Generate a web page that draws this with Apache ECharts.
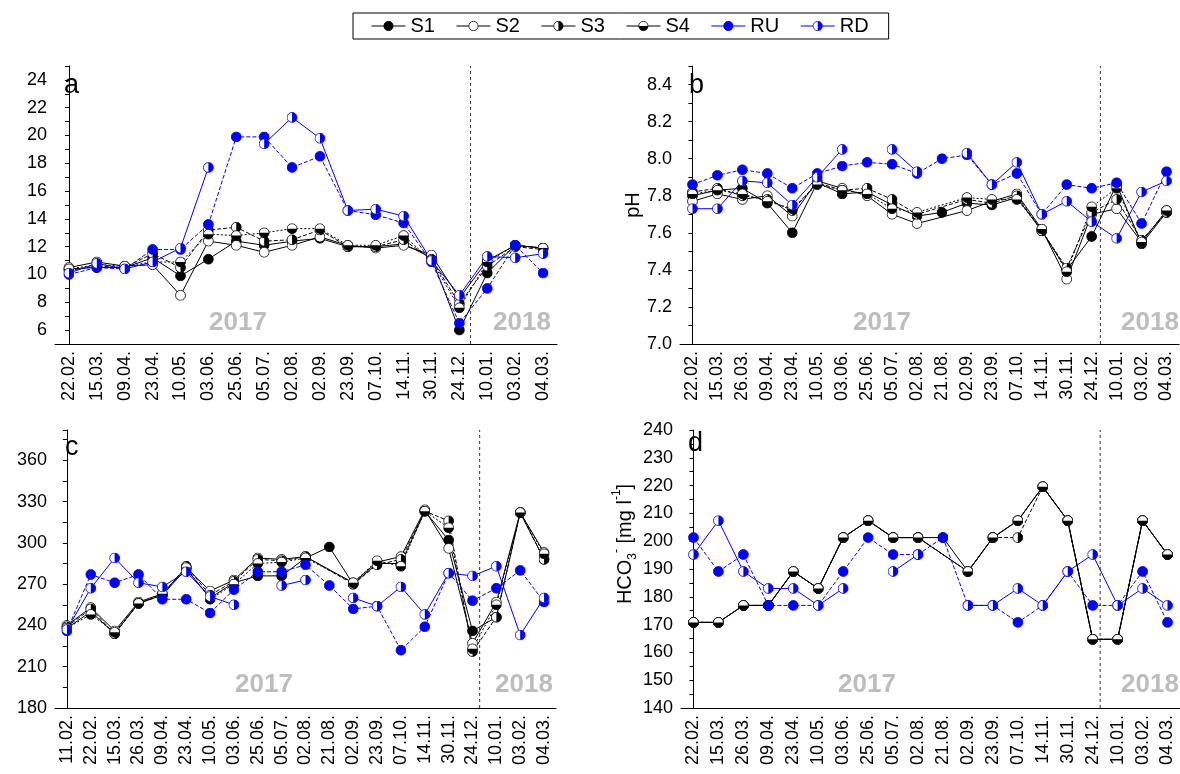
<!DOCTYPE html>
<html>
<head>
<meta charset="utf-8">
<script src="https://cdn.jsdelivr.net/npm/echarts@6/dist/echarts.min.js"></script>
<style>
  html, body { margin: 0; padding: 0; background: #fff; }
  #chart { width: 1180px; height: 774px; }
</style>
</head>
<body>
<div id="chart"></div>
<script>
// ---- sampling dates ----
const datesA = ['22.02.','15.03.','09.04.','23.04.','10.05.','03.06.','25.06.','05.07.','02.08.','02.09.','23.09.','07.10.','14.11.','30.11.','24.12.','10.01.','03.02.','04.03.'];
const datesB = ['22.02.','15.03.','26.03.','09.04.','23.04.','10.05.','03.06.','25.06.','05.07.','02.08.','21.08.','02.09.','23.09.','07.10.','14.11.','30.11.','24.12.','10.01.','03.02.','04.03.'];
const datesC = ['11.02.','22.02.','15.03.','26.03.','09.04.','23.04.','10.05.','03.06.','25.06.','05.07.','02.08.','21.08.','02.09.','23.09.','07.10.','14.11.','30.11.','24.12.','10.01.','03.02.','04.03.'];
const datesD = datesB;

// ---- panel a: temperature ----
const tempS1 = [10.4,10.5,10.5,11.2,9.9,11.1,12.4,12.1,12.4,12.6,12.0,12.0,12.2,11.2,6.0,10.1,12.1,11.9];
const tempS2 = [10.5,10.9,10.6,10.7,8.5,12.4,12.1,11.6,12.1,12.7,12.1,11.9,12.1,11.4,8.3,11.0,12.1,11.9];
const tempS3 = [10.3,10.6,10.5,11.5,10.5,13.2,13.4,12.4,12.5,13.2,12.0,12.0,12.5,11.1,7.9,10.6,12.0,11.8];
const tempS4 = [10.4,10.7,10.6,10.9,10.9,12.9,12.8,13.0,13.3,13.3,12.1,12.1,12.8,11.0,7.6,10.9,12.1,11.9];
const tempRU = [10.0,10.5,10.4,11.8,11.8,13.6,19.9,19.9,17.7,18.5,14.6,14.3,13.7,10.9,6.5,9.0,12.1,10.1];
const tempRD = [10.1,10.8,10.4,10.9,11.9,17.7,null,19.4,21.3,19.8,14.6,14.7,14.2,11.0,8.5,11.3,11.2,11.5];

// ---- panel b: pH ----
const phS1 = [7.80,7.83,7.84,7.76,7.60,7.87,7.81,7.82,7.75,7.69,7.71,7.76,7.75,7.79,7.61,7.40,7.58,7.86,7.54,7.71];
const phS2 = [7.77,7.81,7.78,7.80,7.69,7.88,7.84,7.80,7.70,7.65,null,7.72,7.77,7.81,7.62,7.35,7.70,7.73,7.55,7.72];
const phS3 = [7.82,7.84,7.80,7.78,7.72,7.87,7.83,7.84,7.78,7.70,null,7.78,7.76,7.80,7.61,7.41,7.71,7.78,7.56,7.71];
const phS4 = [7.81,7.83,7.81,7.77,7.73,7.86,7.83,7.81,7.73,7.71,null,7.79,7.78,7.78,7.62,7.39,7.74,7.84,7.55,7.72];
const phRU = [7.86,7.91,7.94,7.92,7.84,7.92,7.96,7.98,7.97,7.92,8.00,8.02,7.86,7.92,7.70,7.86,7.84,7.87,7.65,7.93];
const phRD = [7.73,7.73,7.88,7.87,7.75,7.90,8.05,null,8.05,7.93,null,8.03,7.86,7.98,7.70,7.77,7.66,7.57,7.82,7.88];

// ---- panel c: conductivity ----
const condS1 = [238,250,234,256,262,281,260,271,276,276,289,297,270,285,285,323,302,236,246,322,288];
const condS2 = [240,253,236,257,263,282,265,273,289,288,290,null,271,286,290,324,296,227,257,322,293];
const condS3 = [239,252,234,256,262,283,262,272,288,287,290,null,270,284,288,323,316,221,246,322,288];
const condS4 = [238,248,235,256,263,282,259,270,285,286,289,null,271,287,283,323,311,223,255,322,292];
const condRU = [236,277,271,277,259,259,249,266,279,279,284,269,252,254,222,239,278,258,267,280,257];
const condRD = [237,267,289,271,268,279,261,255,null,269,273,null,260,254,268,248,278,276,283,233,260];

// ---- panel d: bicarbonate ----
const hco3S1 = [170.8,170.8,176.9,176.9,189.1,183.0,201.3,207.4,201.3,201.3,201.3,189.1,201.3,207.4,219.6,207.4,164.7,164.7,207.4,195.2];
const hco3S2 = [170.8,170.8,176.9,176.9,189.1,183.0,201.3,207.4,201.3,201.3,null,189.1,201.3,207.4,219.6,207.4,164.7,164.7,207.4,195.2];
const hco3S3 = [170.8,170.8,176.9,176.9,189.1,183.0,201.3,207.4,201.3,201.3,null,189.1,201.3,201.3,219.6,207.4,164.7,164.7,207.4,195.2];
const hco3S4 = [170.8,170.8,176.9,176.9,189.1,183.0,201.3,207.4,201.3,201.3,null,189.1,201.3,207.4,219.6,207.4,164.7,164.7,207.4,195.2];
const hco3RU = [201.3,189.1,195.2,176.9,176.9,176.9,189.1,201.3,195.2,195.2,201.3,176.9,176.9,170.8,176.9,189.1,176.9,176.9,189.1,170.8];
const hco3RD = [195.2,207.4,189.1,183.0,183.0,176.9,183.0,null,189.1,195.2,null,176.9,176.9,183.0,176.9,189.1,195.2,176.9,183.0,176.9];

// year boundary position (between 24.12. and 10.01.) on each panel's date index scale
const yearBreak = [14.4, 16.35, 17.3, 16.3];

const seriesNames = ['S1','S2','S3','S4','RU','RD'];
const FONT = "'Liberation Sans', Arial, sans-serif";
const BLUE = '#0000ff';

// circle marker drawn as a small svg: full, empty, or half-filled
function marker(stroke, base, halfPath, halfFill) {
  let s = '<svg xmlns="http://www.w3.org/2000/svg" width="40" height="40" viewBox="0 0 40 40">' +
          '<circle cx="20" cy="20" r="18" fill="' + base + '"/>';
  if (halfPath) s += '<path d="' + halfPath + '" fill="' + halfFill + '"/>';
  s += '<circle cx="20" cy="20" r="18" fill="none" stroke="' + stroke + '" stroke-width="3"/></svg>';
  return 'image://data:image/svg+xml;charset=utf-8,' + encodeURIComponent(s);
}
const RIGHT_HALF = 'M20 2 A18 18 0 0 1 20 38 Z';
const BOTTOM_HALF = 'M2 20 A18 18 0 0 0 38 20 Z';

const style = {
  S1: { color: '#000', symbol: marker('#000', '#000'), line: 'solid' },
  S2: { color: '#000', symbol: marker('#000', '#fff'), line: 'solid' },
  S3: { color: '#000', symbol: marker('#000', '#fff', RIGHT_HALF, '#000'), line: [4, 2] },
  S4: { color: '#000', symbol: marker('#000', '#fff', BOTTOM_HALF, '#000'), line: [2, 2] },
  RU: { color: BLUE, symbol: marker(BLUE, BLUE), line: [4, 2] },
  RD: { color: BLUE, symbol: marker(BLUE, '#fff', RIGHT_HALF, BLUE), line: 'solid' }
};

const nameRich = {
  n: { fontSize: 20, fontFamily: FONT, color: '#000', lineHeight: 28 },
  sub: { fontSize: 12, fontFamily: FONT, color: '#000', verticalAlign: 'bottom', lineHeight: 28 },
  sup: { fontSize: 12, fontFamily: FONT, color: '#000', verticalAlign: 'top', lineHeight: 28 }
};

const panels = [
  { dates: datesA, data: [tempS1, tempS2, tempS3, tempS4, tempRU, tempRD],
    min: 5, max: 25, step: 1, label: v => (v % 2 === 0 ? String(v) : '') },
  { dates: datesB, data: [phS1, phS2, phS3, phS4, phRU, phRD],
    min: 7.0, max: 8.5, step: 0.1, label: v => (Math.round(v * 10) % 2 === 0 ? v.toFixed(1) : ''),
    name: 'pH', nameGap: 37, namePad: [0, 0, 0, 0] },
  { dates: datesC, data: [condS1, condS2, condS3, condS4, condRU, condRD],
    min: 180, max: 382, step: 15, label: v => ((Math.round(v) - 180) % 30 === 0 ? String(Math.round(v)) : '') },
  { dates: datesD, data: [hco3S1, hco3S2, hco3S3, hco3S4, hco3RU, hco3RD],
    min: 140, max: 240, step: 5, label: v => (Math.round(v) % 10 === 0 ? String(Math.round(v)) : ''),
    name: '{n|HCO}{sub|3}{sup|-}{n| [mg l}{sup|-1}{n|]}', nameGap: 35, namePad: [0, 0, 0, 50] }
];

const grids = [
  { left: 55,  top: 66,  width: 502, height: 278 },
  { left: 680, top: 66,  width: 499, height: 278 },
  { left: 55,  top: 430, width: 501, height: 278 },
  { left: 681, top: 430, width: 499, height: 278 }
];

const xAxes = [], yAxes = [], series = [];

panels.forEach((p, k) => {
  xAxes.push({
    type: 'category', gridIndex: k, data: p.dates, boundaryGap: true,
    axisLine: { lineStyle: { color: '#000', width: 1 } },
    axisTick: { alignWithLabel: true, length: 4, lineStyle: { color: '#000' } },
    axisLabel: { rotate: 90, interval: 0, margin: 7, color: '#000', fontSize: 18, fontFamily: FONT },
    splitLine: { show: false }
  });
  const y = {
    type: 'value', gridIndex: k, min: p.min, max: p.max, interval: p.step,
    axisLine: { show: true, lineStyle: { color: '#000', width: 1 } },
    axisTick: { show: true, length: 4, lineStyle: { color: '#000' } },
    axisLabel: { formatter: p.label, margin: 8, color: '#000', fontSize: 18, fontFamily: FONT },
    splitLine: { show: false }
  };
  if (p.name) {
    y.name = p.name;
    y.nameLocation = 'middle';
    y.nameRotate = 90;
    y.nameGap = p.nameGap;
    y.nameTextStyle = { color: '#000', fontSize: 20, fontFamily: FONT, padding: p.namePad, rich: nameRich };
  }
  yAxes.push(y);

  p.data.forEach((vals, i) => {
    const name = seriesNames[i];
    const st = style[name];
    series.push({
      name: name, type: 'line', xAxisIndex: k, yAxisIndex: k,
      data: vals, connectNulls: name !== 'RD',
      symbol: st.symbol, symbolSize: 11, showSymbol: true,
      lineStyle: { color: st.color, width: 1, type: st.line },
      itemStyle: { color: st.color },
      emphasis: { disabled: true }, animation: false
    });
  });
});

// hidden numeric x scales used for the year divider lines
panels.forEach((p, k) => {
  xAxes.push({ type: 'value', gridIndex: k, min: -0.5, max: p.dates.length - 0.5, show: false });
  series.push({
    name: 'year-divider-' + k, type: 'line', xAxisIndex: 4 + k, yAxisIndex: k,
    data: [[yearBreak[k], p.min], [yearBreak[k], p.max]],
    symbol: 'none', silent: true, animation: false,
    lineStyle: { color: '#333', width: 1, type: [3, 3] }, z: 1
  });
});

const panelLetters = [
  { t: 'a', x: 64, y: 86 }, { t: 'b', x: 689, y: 86 },
  { t: 'c', x: 65, y: 448 }, { t: 'd', x: 688, y: 444 }
];
const yearLabels = [
  { t: '2017', x: 238, y: 323 }, { t: '2018', x: 522, y: 323 },
  { t: '2017', x: 882, y: 323 }, { t: '2018', x: 1150, y: 323 },
  { t: '2017', x: 264, y: 685 }, { t: '2018', x: 524, y: 685 },
  { t: '2017', x: 867, y: 685 }, { t: '2018', x: 1150, y: 685 }
];

const graphic = [];
panelLetters.forEach(l => graphic.push({
  type: 'text', x: l.x, y: l.y, silent: true,
  style: { text: l.t, font: '27px ' + FONT, fill: '#000', textAlign: 'left', textVerticalAlign: 'middle' }
}));
yearLabels.forEach(l => graphic.push({
  type: 'text', x: l.x, y: l.y, silent: true,
  style: { text: l.t, font: 'bold 26px ' + FONT, fill: '#bdbdbd', textAlign: 'center', textVerticalAlign: 'middle' }
}));

const chart = echarts.init(document.getElementById('chart'), null, { renderer: 'canvas' });
chart.setOption({
  backgroundColor: '#ffffff',
  animation: false,
  textStyle: { fontFamily: FONT },
  legend: {
    data: seriesNames,
    left: 353, top: 13,
    padding: [3, 20, 3, 18],
    itemGap: 21, itemWidth: 34, itemHeight: 13,
    borderColor: '#000', borderWidth: 1,
    textStyle: { color: '#000', fontSize: 20, fontFamily: FONT },
    lineStyle: { type: 'solid', width: 1 },
    selectedMode: false
  },
  grid: grids,
  xAxis: xAxes,
  yAxis: yAxes,
  series: series,
  graphic: graphic
});
</script>
</body>
</html>
